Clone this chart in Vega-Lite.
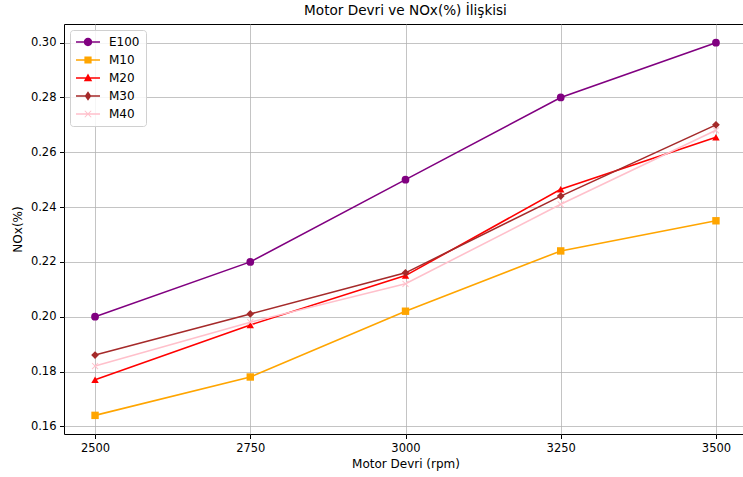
{
  "$schema": "https://vega.github.io/schema/vega-lite/v6.json",
  "autosize": "none",
  "padding": {"left": 64, "top": 24, "right": 0, "bottom": 43},
  "width": 683,
  "height": 410,
  "title": {"text": "Motor Devri ve NOx(%) İlişkisi", "font": "DejaVu Sans", "fontSize": 13.6, "fontWeight": "normal", "color": "#000", "offset": 6},
  "config": {
    "view": {"stroke": "#000", "strokeWidth": 1},
    "axis": {"labelFont": "DejaVu Sans", "titleFont": "DejaVu Sans", "labelFontSize": 11.5, "titleFontSize": 12, "titleFontWeight": "normal", "labelColor": "#000", "titleColor": "#000", "gridColor": "#b0b0b0", "gridOpacity": 0.75, "gridWidth": 1, "tickColor": "#000", "tickSize": 4.5, "labelPadding": 3.5, "domain": false}
  },
  "data": {"values": [
    {"rpm": 2500, "nox": 0.200, "yakit": "E100"},
    {"rpm": 2750, "nox": 0.220, "yakit": "E100"},
    {"rpm": 3000, "nox": 0.250, "yakit": "E100"},
    {"rpm": 3250, "nox": 0.280, "yakit": "E100"},
    {"rpm": 3500, "nox": 0.300, "yakit": "E100"},
    {"rpm": 2500, "nox": 0.164, "yakit": "M10"},
    {"rpm": 2750, "nox": 0.178, "yakit": "M10"},
    {"rpm": 3000, "nox": 0.202, "yakit": "M10"},
    {"rpm": 3250, "nox": 0.224, "yakit": "M10"},
    {"rpm": 3500, "nox": 0.235, "yakit": "M10"},
    {"rpm": 2500, "nox": 0.177, "yakit": "M20"},
    {"rpm": 2750, "nox": 0.197, "yakit": "M20"},
    {"rpm": 3000, "nox": 0.215, "yakit": "M20"},
    {"rpm": 3250, "nox": 0.2465, "yakit": "M20"},
    {"rpm": 3500, "nox": 0.2655, "yakit": "M20"},
    {"rpm": 2500, "nox": 0.186, "yakit": "M30"},
    {"rpm": 2750, "nox": 0.201, "yakit": "M30"},
    {"rpm": 3000, "nox": 0.216, "yakit": "M30"},
    {"rpm": 3250, "nox": 0.244, "yakit": "M30"},
    {"rpm": 3500, "nox": 0.270, "yakit": "M30"},
    {"rpm": 2500, "nox": 0.182, "yakit": "M40"},
    {"rpm": 2750, "nox": 0.198, "yakit": "M40"},
    {"rpm": 3000, "nox": 0.212, "yakit": "M40"},
    {"rpm": 3250, "nox": 0.241, "yakit": "M40"},
    {"rpm": 3500, "nox": 0.268, "yakit": "M40"}
  ]},
  "encoding": {
    "x": {"field": "rpm", "type": "quantitative", "scale": {"domain": [2450, 3550], "nice": false, "zero": false},
      "axis": {"title": "Motor Devri (rpm)", "values": [2500, 2750, 3000, 3250, 3500], "format": "d", "titlePadding": 5}},
    "y": {"field": "nox", "type": "quantitative", "scale": {"domain": [0.1572, 0.3068], "nice": false, "zero": false},
      "axis": {"title": "NOx(%)", "values": [0.16, 0.18, 0.20, 0.22, 0.24, 0.26, 0.28, 0.30], "format": ".2f", "titlePadding": 6}},
    "color": {"field": "yakit", "type": "nominal",
      "scale": {"domain": ["E100", "M10", "M20", "M30", "M40"], "range": ["#800080", "#FFA500", "#FF0000", "#A52A2A", "#FFC0CB"]},
      "legend": {"title": null, "orient": "top-left", "offset": 6, "labelFont": "DejaVu Sans", "labelFontSize": 12, "labelColor": "#000", "symbolSize": 144, "labelOffset": 21, "rowPadding": 6, "padding": 6, "strokeColor": "#d0d0d0", "fillColor": "rgba(255,255,255,0.85)", "cornerRadius": 3,
        "encode": {"symbols": {"update": {
          "size": {"value": 144},
          "strokeWidth": {"value": 0},
          "opacity": {"value": 1},
          "fill": {"signal": "scale('color', datum.value)"},
          "shape": {"signal": "datum.value === 'E100' ? 'M-1,-0.13L3,-0.13L3,0.13L-1,0.13ZM1.7,0A0.7,0.7,0,1,1,0.3,0A0.7,0.7,0,1,1,1.7,0Z' : datum.value === 'M10' ? 'M-1,-0.13L3,-0.13L3,0.13L-1,0.13ZM0.4,-0.6L1.6,-0.6L1.6,0.6L0.4,0.6Z' : datum.value === 'M20' ? 'M-1,-0.13L3,-0.13L3,0.13L-1,0.13ZM1,-0.75L1.7,0.55L0.3,0.55Z' : datum.value === 'M30' ? 'M-1,-0.13L3,-0.13L3,0.13L-1,0.13ZM1,-0.8L1.55,0L1,0.8L0.45,0Z' : 'M-1,-0.13L3,-0.13L3,0.13L-1,0.13ZM0.4,-0.48L0.52,-0.6L1,-0.12L1.48,-0.6L1.6,-0.48L1.12,0L1.6,0.48L1.48,0.6L1,0.12L0.52,0.6L0.4,0.48L0.88,0Z'"}
        }}}}}
  },
  "layer": [
    {"mark": {"type": "line", "strokeWidth": 1.6}},
    {"transform": [{"filter": "datum.yakit === 'E100'"}], "mark": {"type": "point", "filled": true, "opacity": 1, "size": 60, "shape": "circle"}},
    {"transform": [{"filter": "datum.yakit === 'M10'"}], "mark": {"type": "point", "filled": true, "opacity": 1, "size": 55, "shape": "square"}},
    {"transform": [{"filter": "datum.yakit === 'M20'"}], "mark": {"type": "point", "filled": true, "opacity": 1, "size": 55, "shape": "triangle-up"}},
    {"transform": [{"filter": "datum.yakit === 'M30'"}], "mark": {"type": "point", "filled": true, "opacity": 1, "size": 60, "shape": "diamond"}},
    {"transform": [{"filter": "datum.yakit === 'M40'"}], "mark": {"type": "point", "filled": true, "opacity": 1, "size": 45, "shape": "M-1,-0.8L-0.8,-1L0,-0.2L0.8,-1L1,-0.8L0.2,0L1,0.8L0.8,1L0,0.2L-0.8,1L-1,0.8L-0.2,0Z"}}
  ]
}
